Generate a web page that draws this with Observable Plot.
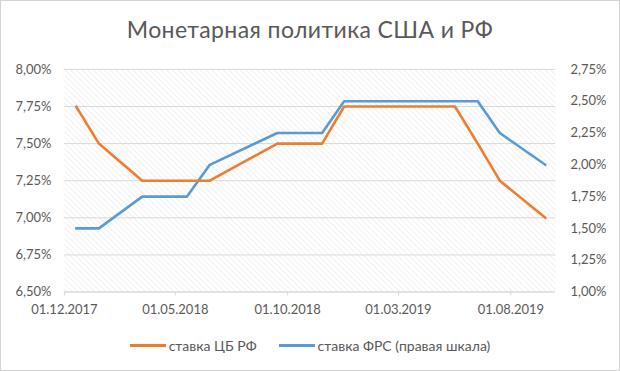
<!DOCTYPE html>
<html>
<head>
<meta charset="utf-8">
<script src="https://cdn.jsdelivr.net/npm/d3@7"></script>
<script src="https://cdn.jsdelivr.net/npm/@observablehq/plot@0.6"></script>
<style>
  html, body { margin: 0; padding: 0; background: #fff; }
  #wrap { position: relative; width: 620px; height: 371px; box-sizing: border-box; border: 1px solid #d4d4d4; background: #fff; overflow: hidden; font-family: Lato, "Open Sans", sans-serif; }
  #title { position: absolute; left: 0; right: 0; top: 14px; text-align: center; font-size: 23px; letter-spacing: 0.4px; color: #595959; }
  #chart { position: absolute; left: -1px; top: -1px; }
  #legend { position: absolute; left: 0; right: 0; top: 336px; display: flex; justify-content: center; gap: 22px; font-size: 14px; color: #595959; }
  .item { display: flex; align-items: center; gap: 3px; }
  .sw { display: inline-block; width: 36px; height: 3px; }
</style>
</head>
<body>
<svg width="0" height="0" style="position:absolute">
  <defs>
    <pattern id="hatch" patternUnits="userSpaceOnUse" width="4" height="4" patternTransform="rotate(-45)">
      <rect width="4" height="4" fill="#ffffff"></rect>
      <line x1="0" y1="0" x2="0" y2="4" stroke="#e8e8e8" stroke-width="1.3"></line>
    </pattern>
  </defs>
</svg>
<div id="wrap">
  <div id="title">Монетарная политика США и РФ</div>
  <div id="chart"></div>
  <div id="legend">
    <div class="item"><span class="sw" style="background:#ED7D31"></span><span>ставка ЦБ РФ</span></div>
    <div class="item"><span class="sw" style="background:#5B9BD5"></span><span>ставка ФРС (правая шкала)</span></div>
  </div>
</div>
<script>
// Data
const dates = ["2017-12-17","2018-01-17","2018-03-17","2018-05-17","2018-06-17","2018-09-17","2018-11-17","2018-12-17","2019-05-17","2019-06-17","2019-07-17","2019-09-17"];
const cbrRate = [7.75, 7.50, 7.25, 7.25, 7.25, 7.50, 7.50, 7.75, 7.75, 7.50, 7.25, 7.00];
const fedRate = [1.50, 1.50, 1.75, 1.75, 2.00, 2.25, 2.25, 2.50, 2.50, 2.50, 2.25, 2.00];
const leftTicks = [6.50, 6.75, 7.00, 7.25, 7.50, 7.75, 8.00];
const rightTicks = [1.00, 1.25, 1.50, 1.75, 2.00, 2.25, 2.50, 2.75];
const xTicks = ["2017-12-01","2018-05-01","2018-10-01","2019-03-01","2019-08-01"];
const xDomain = ["2017-12-01","2019-10-01"];

const leftDomain = [6.5, 8.0];
const rightDomain = [1.0, 2.75];
// map right-axis value onto left scale
const toLeft = v => leftDomain[0] + (v - rightDomain[0]) * (leftDomain[1] - leftDomain[0]) / (rightDomain[1] - rightDomain[0]);
const toRight = v => rightDomain[0] + (v - leftDomain[0]) * (rightDomain[1] - rightDomain[0]) / (leftDomain[1] - leftDomain[0]);

const parse = d3.utcParse("%Y-%m-%d");
const cbr = dates.map((d, i) => ({date: parse(d), v: cbrRate[i]}));
const fed = dates.map((d, i) => ({date: parse(d), v: toLeft(fedRate[i])}));
const pct = v => d3.format(".2f")(v).replace(".", ",") + "%";

const plot = Plot.plot({
  width: 620,
  height: 325,
  marginTop: 69,
  marginBottom: 33,
  marginLeft: 64,
  marginRight: 64,
  style: {fontFamily: "Lato, 'Open Sans', sans-serif", fontSize: "13px", color: "#595959", background: "transparent", overflow: "visible"},
  x: {type: "utc", domain: xDomain.map(parse)},
  y: {domain: leftDomain},
  marks: [
    Plot.frame({fill: "url(#hatch)", stroke: null}),
    Plot.gridY(leftTicks, {stroke: "#d9d9d9", strokeOpacity: 1, strokeWidth: 1}),
    Plot.ruleY([leftDomain[0]], {stroke: "#d9d9d9"}),
    Plot.axisY(leftTicks, {anchor: "left", tickSize: 0, tickPadding: 13, tickFormat: pct, label: null, fill: "#595959"}),
    Plot.axisY(rightTicks.map(toLeft), {anchor: "right", tickSize: 0, tickPadding: 15, tickFormat: v => pct(toRight(v)), label: null, fill: "#595959"}),
    Plot.axisX(xTicks.map(parse), {tickSize: 4, tickPadding: 9, stroke: "#d9d9d9", tickFormat: d3.utcFormat("%d.%m.%Y"), label: null, fill: "#595959"}),
    Plot.line(fed, {x: "date", y: "v", stroke: "#5B9BD5", strokeWidth: 2.6, strokeLinejoin: "round", strokeLinecap: "round"}),
    Plot.line(cbr, {x: "date", y: "v", stroke: "#ED7D31", strokeWidth: 2.6, strokeLinejoin: "round", strokeLinecap: "round"})
  ]
});
document.getElementById("chart").appendChild(plot);
</script>
</body>
</html>
